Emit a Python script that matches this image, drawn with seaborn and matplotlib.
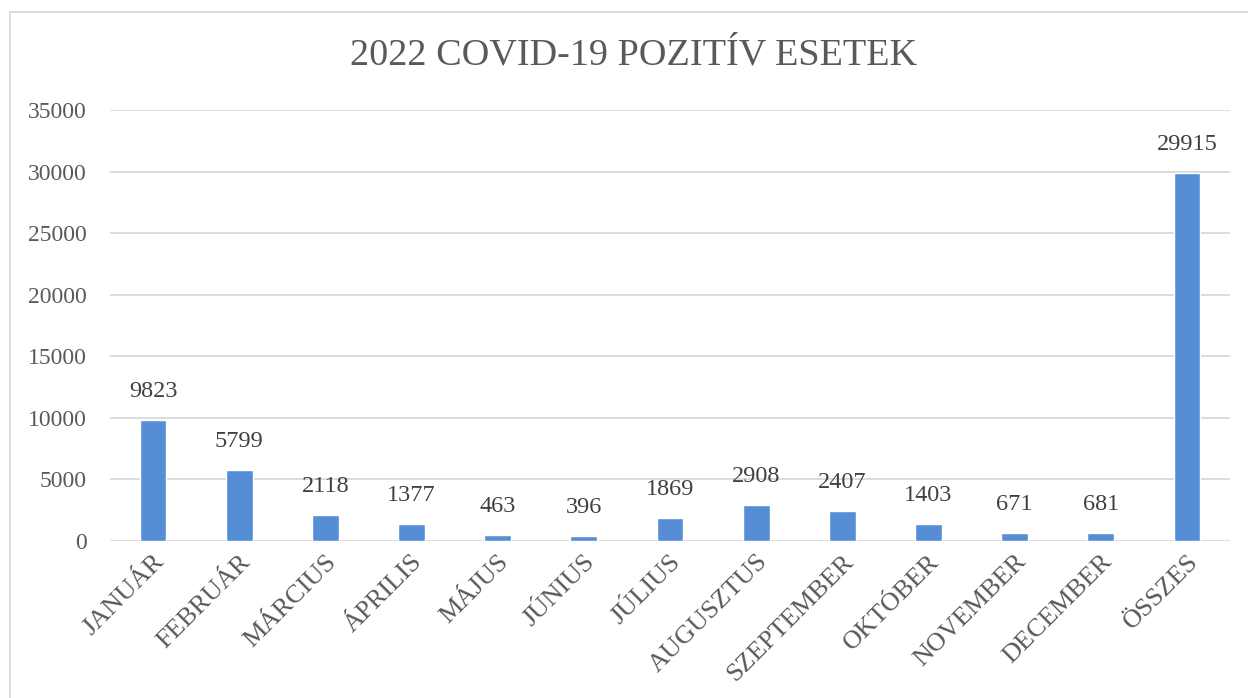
import matplotlib
matplotlib.use("Agg")
import matplotlib.pyplot as plt
import seaborn as sns
import pandas as pd
from matplotlib.lines import Line2D

categories = ["JANUÁR", "FEBRUÁR", "MÁRCIUS", "ÁPRILIS", "MÁJUS", "JÚNIUS", "JÚLIUS",
              "AUGUSZTUS", "SZEPTEMBER", "OKTÓBER", "NOVEMBER", "DECEMBER", "ÖSSZES"]
values = [9823, 5799, 2118, 1377, 463, 396, 1869, 2908, 2407, 1403, 671, 681, 29915]
yticks = [0, 5000, 10000, 15000, 20000, 25000, 30000, 35000]

sns.set_theme(style="white")
plt.rcParams['font.family'] = ['Liberation Serif', 'DejaVu Serif']

df = pd.DataFrame({"cat": categories, "val": values})

W, H = 1248, 698
fig = plt.figure(figsize=(W / 100, H / 100), dpi=100)
ax = fig.add_axes([110 / W, 1 - 541 / H, (1230 - 110) / W, (541 - 110) / H])

sns.barplot(data=df, x="cat", y="val", color="#558ED5", saturation=1, width=0.31, ax=ax, zorder=3)

ax.set_ylim(0, 35000)
ax.set_xlim(-0.5, len(categories) - 0.5)
ax.set_yticks(yticks)
ax.set_yticklabels([str(t) for t in yticks])
ax.grid(axis="y", color="#D9D9D9", linewidth=1.3, zorder=0)
ax.grid(axis="x", visible=False)
for s in ax.spines.values():
    s.set_visible(False)
ax.tick_params(axis="both", length=0, colors="#595959")
ax.tick_params(axis="y", pad=17, labelsize=17)
ax.tick_params(axis="x", pad=7, labelsize=19)
plt.setp(ax.get_xticklabels(), rotation=45, ha="right", rotation_mode="anchor")
ax.set_xlabel("")
ax.set_ylabel("")

for i, v in enumerate(values):
    ax.annotate(str(v), (i, v), xytext=(0, 13), textcoords="offset points",
                ha="center", va="bottom", fontsize=17.5, color="#404040")

fig.text(634 / W, 1 - 55 / H, "2022 COVID-19 POZITÍV ESETEK", ha="center", va="center",
         fontsize=27.5, color="#595959")

# chart border
fig.add_artist(Line2D([10 / W, 10 / W], [0, 1 - 12 / H], color="#D9D9D9", linewidth=1.3,
                      transform=fig.transFigure))
fig.add_artist(Line2D([10 / W, 1], [1 - 12 / H, 1 - 12 / H], color="#D9D9D9", linewidth=1.3,
                      transform=fig.transFigure))

fig.savefig("out.png", dpi=100)
